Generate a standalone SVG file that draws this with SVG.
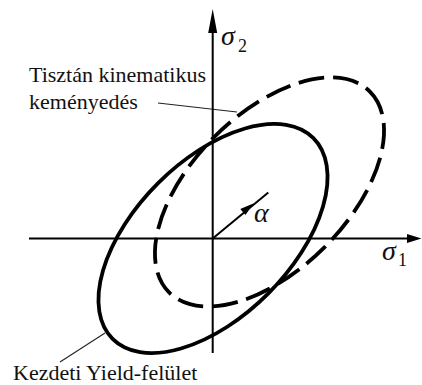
<svg xmlns="http://www.w3.org/2000/svg" width="422" height="385" viewBox="0 0 422 385">
<style>
.axis{stroke:#000;stroke-width:2;fill:none}
.head{fill:#000;stroke:none}
.yield{fill:none;stroke:#000;stroke-width:3.8}
.dash{stroke-dasharray:26 9}
.leader{stroke:#222;stroke-width:1.1;fill:none}
</style>
<rect width="422" height="385" fill="#fff"/>
<g id="connectors">
<line class="leader" x1="158" y1="103" x2="237" y2="112"/>
<line class="leader" x1="60" y1="362" x2="105" y2="333"/>
</g>
<g id="axis-sigma1">
<line class="axis" x1="29" y1="238.5" x2="410" y2="238.5"/>
<polygon class="head" points="421.5,238.5 407,234 407,243"/>
<text x="382" y="260" font-family="Liberation Serif" font-style="italic" font-size="28" fill="#111">σ</text>
<text x="398" y="266" font-family="Liberation Serif" font-size="18" fill="#111">1</text>
</g>
<g id="axis-sigma2">
<line class="axis" x1="212.7" y1="353" x2="212.7" y2="25"/>
<polygon class="head" points="212.7,9 208.2,33 217.2,33"/>
<text x="221" y="45" font-family="Liberation Serif" font-style="italic" font-size="28" fill="#111">σ</text>
<text x="238" y="52" font-family="Liberation Serif" font-size="18" fill="#111">2</text>
</g>
<g id="initial-yield">
<ellipse class="yield" cx="0" cy="0" rx="142" ry="78" transform="translate(213,238.5) rotate(-45)"/>
</g>
<g id="kinematic-hardening">
<ellipse class="yield dash" cx="0" cy="0" rx="142" ry="78" transform="translate(269.5,192) rotate(-45)"/>
</g>
<g id="alpha">
<line x1="212.7" y1="238.5" x2="268.3" y2="192.5" stroke="#000" stroke-width="2"/>
<polygon class="head" points="253.8,203.2 240.3,209 245.4,215.1"/>
<text x="254" y="222" font-family="Liberation Serif" font-style="italic" font-size="28" fill="#111">α</text>
</g>
<g id="label-kinematic">
<text x="29" y="82" font-family="Liberation Serif" font-size="22" fill="#111">Tisztán kinematikus</text>
<text x="29" y="109" font-family="Liberation Serif" font-size="22" fill="#111">keményedés</text>
</g>
<g id="label-initial">
<text x="13" y="380" font-family="Liberation Serif" font-size="22" fill="#111">Kezdeti Yield-felület</text>
</g>
</svg>
